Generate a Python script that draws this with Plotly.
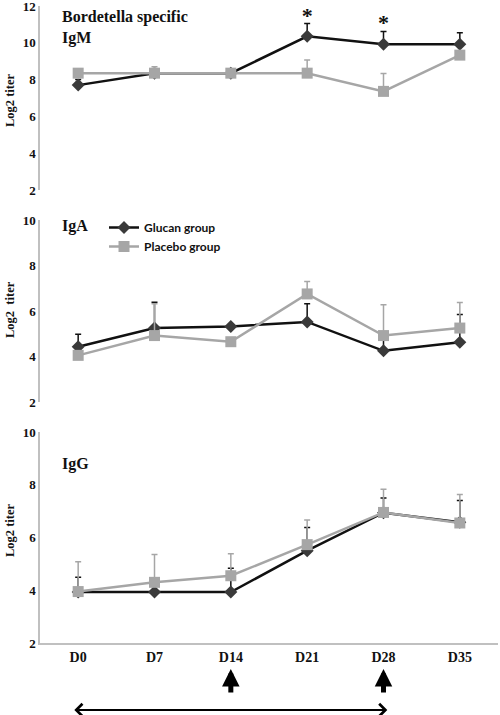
import plotly.graph_objects as go

days = ["D0", "D7", "D14", "D21", "D28", "D35"]

igm_glucan = [7.7, 8.35, 8.35, 10.35, 9.92, 9.92]
igm_glucan_err = [0.3, 0, 0, 0.7, 0.7, 0.63]
igm_placebo = [8.35, 8.35, 8.35, 8.35, 7.36, 9.33]
igm_placebo_err = [0, 0.35, 0, 0.72, 0.97, 0]

iga_glucan = [4.43, 5.25, 5.32, 5.52, 4.25, 4.63]
iga_glucan_err = [0.55, 1.13, 0, 0.8, 0.5, 1.22]
iga_placebo = [4.05, 4.92, 4.65, 6.75, 4.92, 5.25]
iga_placebo_err = [0, 1.4, 0, 0.55, 1.35, 1.12]

igg_glucan = [3.93, 3.93, 3.93, 5.5, 6.94, 6.58]
igg_glucan_err = [0.56, 0, 0.9, 0.88, 0.56, 0.82]
igg_placebo = [3.95, 4.3, 4.55, 5.73, 6.95, 6.55]
igg_placebo_err = [1.13, 1.06, 0.83, 0.93, 0.88, 1.08]

star_days = ["D21", "D28"]
star_y = [11.35, 11.0]

panels = [
    ("IgM", igm_glucan, igm_glucan_err, igm_placebo, igm_placebo_err, [2, 12], [6, 190]),
    ("IgA", iga_glucan, iga_glucan_err, iga_placebo, iga_placebo_err, [2, 10], [220, 402]),
    ("IgG", igg_glucan, igg_glucan_err, igg_placebo, igg_placebo_err, [2, 10], [432, 643]),
]

W, H = 500, 715
SERIF = "Liberation Serif"
GL_LINE = "#111111"
GL_MARK = "#3a3a3a"
PL = "#a6a6a6"
AXC = "#c0c0c0"

fig = go.Figure()
layout = dict(
    width=W, height=H, margin=dict(l=0, r=0, t=0, b=0, autoexpand=False),
    paper_bgcolor="white", plot_bgcolor="white", showlegend=True,
)

for i, (name, g, ge, p, pe, yr, (ptop, pbot)) in enumerate(panels):
    n = i + 1
    xa = "x" if n == 1 else f"x{n}"
    ya = "y" if n == 1 else f"y{n}"
    show = (n == 2)
    fig.add_trace(go.Scatter(
        x=days, y=g, xaxis=xa, yaxis=ya, mode="lines+markers",
        name="Glucan group", showlegend=show, legendrank=1,
        line=dict(color=GL_LINE, width=2.5),
        marker=dict(symbol="diamond", size=10, color=GL_MARK),
        error_y=dict(type="data", symmetric=False, array=ge, arrayminus=[0] * 6,
                     color=GL_LINE, thickness=1.5, width=3),
    ))
    fig.add_trace(go.Scatter(
        x=days, y=p, xaxis=xa, yaxis=ya, mode="lines+markers",
        name="Placebo group", showlegend=show, legendrank=2,
        line=dict(color=PL, width=2.5),
        marker=dict(symbol="square", size=11, color=PL),
        error_y=dict(type="data", symmetric=False, array=pe, arrayminus=[0] * 6,
                     color=PL, thickness=1.5, width=3),
    ))
    dom = [(H - pbot) / H, (H - ptop) / H]
    xkey = "xaxis" if n == 1 else f"xaxis{n}"
    ykey = "yaxis" if n == 1 else f"yaxis{n}"
    layout[xkey] = dict(
        domain=[0.08, 0.996], anchor=ya, type="category", range=[-0.5, 5.5],
        automargin=False,
        showgrid=False, zeroline=False, showline=(n == 3), linecolor=AXC, linewidth=1.5,
        showticklabels=(n == 3), ticks="",
        tickfont=dict(family=SERIF, size=14, color="#111", weight="bold"),
    )
    layout[ykey] = dict(
        domain=dom, anchor=xa, range=yr, dtick=2, showgrid=False, zeroline=False,
        automargin=False, ticklabeloverflow="allow",
        showline=True, linecolor=AXC, linewidth=1.5, ticks="", ticklabelstandoff=0,
        tickfont=dict(family=SERIF, size=13, color="#111", weight="bold"),
    )

# stars
fig.add_trace(go.Scatter(
    x=star_days, y=star_y, xaxis="x", yaxis="y", mode="text", text=["*", "*"],
    textfont=dict(family=SERIF, size=22, color="#111", weight="bold"), showlegend=False,
))

annotations = []
TF = dict(family=SERIF, size=16, color="#111", weight="bold")
annotations.append(dict(xref="paper", yref="paper", x=60 / W, y=(H - 6) / H,
                        xanchor="left", yanchor="top", showarrow=False, align="left",
                        text="Bordetella specific<br>IgM", font=TF))
annotations.append(dict(xref="paper", yref="paper", x=60 / W, y=(H - 215) / H,
                        xanchor="left", yanchor="top", showarrow=False,
                        text="IgA", font=TF))
annotations.append(dict(xref="paper", yref="paper", x=60 / W, y=(H - 453) / H,
                        xanchor="left", yanchor="top", showarrow=False,
                        text="IgG", font=TF))
# y titles
for yc, txt in [(100, "Log2 titer"), (310, "Log2  titer"), (530, "Log2 titer")]:
    annotations.append(dict(xref="paper", yref="paper", x=10 / W, y=(H - yc) / H,
                            xanchor="center", yanchor="middle", showarrow=False, textangle=-90,
                            text=txt, font=dict(family=SERIF, size=12.5, color="#111", weight="bold")))
# vaccination arrows
for d in ["D14", "D28"]:
    annotations.append(dict(xref="x3", yref="paper", x=d, y=(H - 669) / H, text="",
                            showarrow=True, axref="pixel", ayref="pixel", ax=0, ay=25,
                            arrowhead=2, arrowsize=0.7, arrowwidth=5, arrowcolor="#000"))
# double arrow (treatment period)
annotations.append(dict(xref="x3", yref="paper", x=4.05, y=(H - 710) / H, text="",
                        showarrow=True, axref="x3", ayref="pixel", ax=-0.07, ay=0,
                        arrowhead=4, startarrowhead=4, arrowside="end+start",
                        arrowsize=1.2, startarrowsize=1.2, arrowwidth=2, arrowcolor="#000"))
layout["annotations"] = annotations

layout["legend"] = dict(
    x=104 / W, y=(H - 213) / H, xanchor="left", yanchor="top",
    bgcolor="rgba(0,0,0,0)", tracegroupgap=0,
    font=dict(family="Lato", size=12, color="#111", weight="bold"),
)

fig.update_layout(**layout)
fig.write_html("out.html", config={"displayModeBar": False},
               post_script="document.body.style.margin='0';document.body.style.overflow='hidden';")
